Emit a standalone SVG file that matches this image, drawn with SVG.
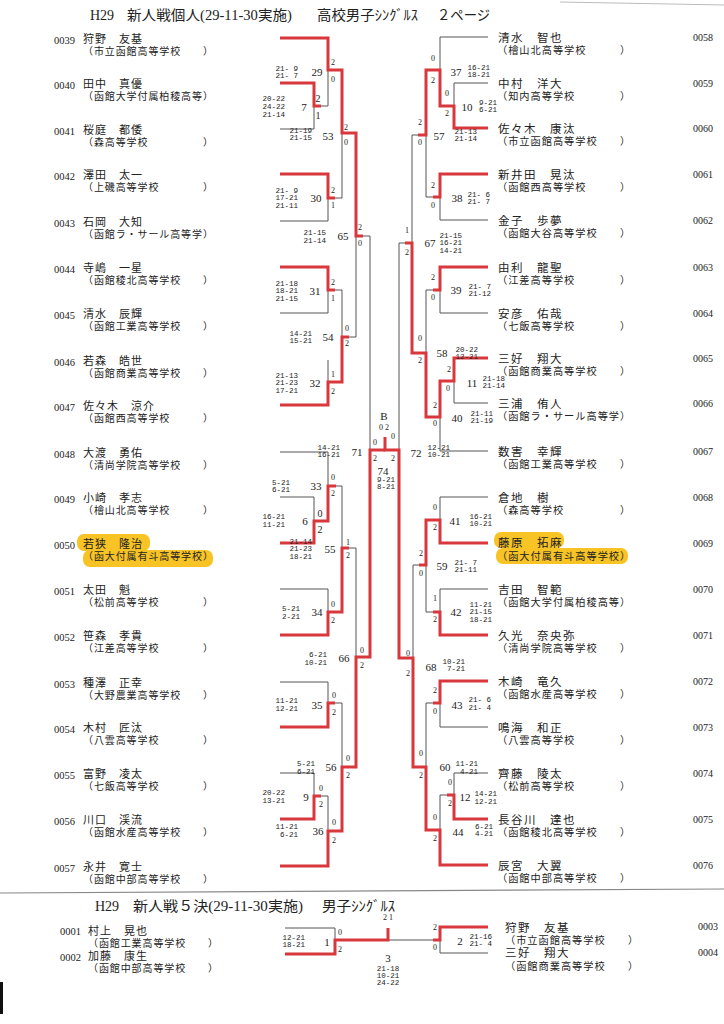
<svg xmlns="http://www.w3.org/2000/svg" width="724" height="1024" viewBox="0 0 724 1024">
<style>
text{fill:#222}
.cd{font:10.5px "Liberation Serif",serif}
.cdr{font:10px "Liberation Serif",serif}
.nm{font:11px "Liberation Serif","Noto Sans CJK JP",sans-serif;letter-spacing:1px}
.nmr{font:11.5px "Liberation Serif","Noto Sans CJK JP",sans-serif;letter-spacing:1.5px}
.sc{font:10px "Liberation Serif","Noto Sans CJK JP",sans-serif;letter-spacing:0.9px}
.scr{font:10.2px "Liberation Serif","Noto Sans CJK JP",sans-serif;letter-spacing:1px}
.ttl{font:14px "Liberation Serif","Noto Sans CJK JP",serif}
.t{fill:none;stroke:#555;stroke-width:1}
.r{fill:none;stroke:#d8373c;stroke-width:3}
.sr{font:7.5px "Liberation Mono",monospace;text-anchor:end}
.sm{font:7.5px "Liberation Mono",monospace;text-anchor:middle}
.mn{font:11px "Liberation Serif",serif;text-anchor:middle}
.lb{font:8px "Liberation Serif",serif;text-anchor:middle}
.lbb{font:10px "Liberation Serif",serif;text-anchor:middle}
.hl{fill:#f7c325}
</style>
<rect width="724" height="1024" fill="#fff"/>
<g id="decor">
<path d="M560 2 L724 5" stroke="#bbb" stroke-width="1" fill="none"/>
<path d="M0 893 L724 889" stroke="#888" stroke-width="1.2" fill="none"/>
<rect x="0" y="982" width="3" height="32" fill="#111"/>
</g>
<g id="title-top">
<text class="ttl" x="90" y="20">H29</text>
<text class="ttl" x="127" y="20" textLength="165" lengthAdjust="spacingAndGlyphs">新人戦個人(29-11-30実施)</text>
<text class="ttl" x="317" y="20" textLength="101" lengthAdjust="spacingAndGlyphs">高校男子ｼﾝｸﾞﾙｽ</text>
<text class="ttl" x="437" y="20" textLength="53" lengthAdjust="spacingAndGlyphs">２ページ</text>
</g>
<g id="title-bottom">
<text class="ttl" x="95" y="911">H29</text>
<text class="ttl" x="133" y="911" textLength="170" lengthAdjust="spacingAndGlyphs">新人戦５決(29-11-30実施)</text>
<text class="ttl" x="322" y="911" textLength="73" lengthAdjust="spacingAndGlyphs">男子ｼﾝｸﾞﾙｽ</text>
</g>
<g id="highlights">
<rect class="hl" x="77" y="534" width="73" height="17" rx="7"/>
<rect class="hl" x="83" y="550" width="130" height="17" rx="7"/>
<rect class="hl" x="494" y="532" width="70" height="16" rx="7"/>
<rect class="hl" x="496" y="548" width="132" height="16" rx="7"/>
</g>
<g id="connectors">
<path class="t" d="M280 129H314M280 221H328M280 313H328M280 452H328M280 497H314M280 589H328M280 682H328M280 773H314
M314 106V129M321 106H328M328 70V106M328 198V221M335 198H342M342 133V198M328 290V313M335 290H342M328 360V382M342 290V337M349 337H356M356 236V337M363 236H370M370 236V450
M314 497V521M328 452V486M336 486H342M328 589V612M342 486V548M349 548H356M356 548V657M328 682V703M335 703H342M314 773V796M321 796H328M328 796V831M342 703V767"/>
<path class="t" d="M488 37H440V70M488 83H454V106M488 220H440V197M433 197H426M426 135V197M418 135H412M488 313H440V290M433 290H426M426 290V353M488 403H454V381M488 451H440V417M412 135V243M405 243H399M399 243V450
M488 497H440V520M488 589H440V612M433 612H426M426 565V612M419 565H413M413 565V658M488 727H440V703M433 703H426M426 703V767M488 773H454V795M447 795H440M440 795V830"/>
<path class="t" d="M285 928H335V940M388 940H433M488 953H440V940"/>
<path class="r" d="M280 38H328V70H342V133H356V236H363M280 83H314V106H321M280 174H328V198H335M280 267H328V290H335M280 405H328V382H342V337H349M280 543H314V521H328V486H336M280 635H328V612H342V548H349M280 727H328V703H335M280 819H314V796H321M280 866H328V831H342V767H356V657H370V450H385"/>
<path class="r" d="M488 128H454V106H440V70H426V135H418M488 174H440V197H433M488 267H440V290H433M488 358H454V381H440V417H426V353H412V243H405M488 543H440V520H426V565H419M488 635H440V612H433M488 681H440V703H433M488 819H454V795H447M488 865H440V830H426V767H413V658H399V450H385V437"/>
<path class="r" d="M285 954H335V940H388V928M488 927H440V940H433"/>
</g>
<g id="players-left">
<g id="p0039"><text class="cd" x="54" y="44">0039</text><text x="83" y="43"><tspan class="nm">狩野　友基</tspan><tspan class="sc" x="83" y="54.5">（市立函館高等学校　　）</tspan></text></g>
<g id="p0040"><text class="cd" x="54" y="89">0040</text><text x="83" y="88"><tspan class="nm">田中　真優</tspan><tspan class="sc" x="83" y="99.5">（函館大学付属柏稜高等）</tspan></text></g>
<g id="p0041"><text class="cd" x="54" y="135">0041</text><text x="83" y="134"><tspan class="nm">桜庭　都倭</tspan><tspan class="sc" x="83" y="145.5">（森高等学校　　　　　）</tspan></text></g>
<g id="p0042"><text class="cd" x="54" y="180">0042</text><text x="83" y="179"><tspan class="nm">澤田　太一</tspan><tspan class="sc" x="83" y="190.5">（上磯高等学校　　　　）</tspan></text></g>
<g id="p0043"><text class="cd" x="54" y="227">0043</text><text x="83" y="226"><tspan class="nm">石岡　大知</tspan><tspan class="sc" x="83" y="237.5">（函館ラ・サール高等学）</tspan></text></g>
<g id="p0044"><text class="cd" x="54" y="273">0044</text><text x="83" y="272"><tspan class="nm">寺嶋　一星</tspan><tspan class="sc" x="83" y="283.5">（函館稜北高等学校　　）</tspan></text></g>
<g id="p0045"><text class="cd" x="54" y="319">0045</text><text x="83" y="318"><tspan class="nm">清水　辰輝</tspan><tspan class="sc" x="83" y="329.5">（函館工業高等学校　　）</tspan></text></g>
<g id="p0046"><text class="cd" x="54" y="366">0046</text><text x="83" y="365"><tspan class="nm">若森　皓世</tspan><tspan class="sc" x="83" y="376.5">（函館商業高等学校　　）</tspan></text></g>
<g id="p0047"><text class="cd" x="54" y="411">0047</text><text x="83" y="410"><tspan class="nm">佐々木　涼介</tspan><tspan class="sc" x="83" y="421.5">（函館西高等学校　　　）</tspan></text></g>
<g id="p0048"><text class="cd" x="54" y="458">0048</text><text x="83" y="457"><tspan class="nm">大渡　勇佑</tspan><tspan class="sc" x="83" y="468.5">（清尚学院高等学校　　）</tspan></text></g>
<g id="p0049"><text class="cd" x="54" y="503">0049</text><text x="83" y="502"><tspan class="nm">小崎　孝志</tspan><tspan class="sc" x="83" y="513.5">（檜山北高等学校　　　）</tspan></text></g>
<g id="p0050"><text class="cd" x="54" y="549">0050</text><text x="83" y="548"><tspan class="nm">若狭　隆治</tspan><tspan class="sc" x="83" y="559.5">（函大付属有斗高等学校）</tspan></text></g>
<g id="p0051"><text class="cd" x="54" y="595">0051</text><text x="83" y="594"><tspan class="nm">太田　魁</tspan><tspan class="sc" x="83" y="605.5">（松前高等学校　　　　）</tspan></text></g>
<g id="p0052"><text class="cd" x="54" y="641">0052</text><text x="83" y="640"><tspan class="nm">笹森　孝貴</tspan><tspan class="sc" x="83" y="651.5">（江差高等学校　　　　）</tspan></text></g>
<g id="p0053"><text class="cd" x="54" y="688">0053</text><text x="83" y="687"><tspan class="nm">種澤　正幸</tspan><tspan class="sc" x="83" y="698.5">（大野農業高等学校　　）</tspan></text></g>
<g id="p0054"><text class="cd" x="54" y="733">0054</text><text x="83" y="732"><tspan class="nm">木村　匠汰</tspan><tspan class="sc" x="83" y="743.5">（八雲高等学校　　　　）</tspan></text></g>
<g id="p0055"><text class="cd" x="54" y="779">0055</text><text x="83" y="778"><tspan class="nm">富野　凌太</tspan><tspan class="sc" x="83" y="789.5">（七飯高等学校　　　　）</tspan></text></g>
<g id="p0056"><text class="cd" x="54" y="825">0056</text><text x="83" y="824"><tspan class="nm">川口　渓流</tspan><tspan class="sc" x="83" y="835.5">（函館水産高等学校　　）</tspan></text></g>
<g id="p0057"><text class="cd" x="54" y="872">0057</text><text x="83" y="871"><tspan class="nm">永井　寛士</tspan><tspan class="sc" x="83" y="882.5">（函館中部高等学校　　）</tspan></text></g>
</g>
<g id="players-right">
<g id="p0058"><text x="498" y="41.5"><tspan class="nmr">清水　智也</tspan><tspan class="scr" x="497" y="53.5">（檜山北高等学校　　　）</tspan></text><text class="cdr" x="693" y="41">0058</text></g>
<g id="p0059"><text x="498" y="87.5"><tspan class="nmr">中村　洋大</tspan><tspan class="scr" x="497" y="99.5">（知内高等学校　　　　）</tspan></text><text class="cdr" x="693" y="87">0059</text></g>
<g id="p0060"><text x="498" y="132.5"><tspan class="nmr">佐々木　康汰</tspan><tspan class="scr" x="497" y="144.5">（市立函館高等学校　　）</tspan></text><text class="cdr" x="693" y="132">0060</text></g>
<g id="p0061"><text x="498" y="178.5"><tspan class="nmr">新井田　晃汰</tspan><tspan class="scr" x="497" y="190.5">（函館西高等学校　　　）</tspan></text><text class="cdr" x="693" y="178">0061</text></g>
<g id="p0062"><text x="498" y="224.5"><tspan class="nmr">金子　歩夢</tspan><tspan class="scr" x="497" y="236.5">（函館大谷高等学校　　）</tspan></text><text class="cdr" x="693" y="224">0062</text></g>
<g id="p0063"><text x="498" y="271.5"><tspan class="nmr">由利　龍聖</tspan><tspan class="scr" x="497" y="283.5">（江差高等学校　　　　）</tspan></text><text class="cdr" x="693" y="271">0063</text></g>
<g id="p0064"><text x="498" y="317.5"><tspan class="nmr">安彦　佑哉</tspan><tspan class="scr" x="497" y="329.5">（七飯高等学校　　　　）</tspan></text><text class="cdr" x="693" y="317">0064</text></g>
<g id="p0065"><text x="498" y="362.5"><tspan class="nmr">三好　翔大</tspan><tspan class="scr" x="497" y="374.5">（函館商業高等学校　　）</tspan></text><text class="cdr" x="693" y="362">0065</text></g>
<g id="p0066"><text x="498" y="407.5"><tspan class="nmr">三浦　侑人</tspan><tspan class="scr" x="497" y="419.5">（函館ラ・サール高等学）</tspan></text><text class="cdr" x="693" y="407">0066</text></g>
<g id="p0067"><text x="498" y="455.5"><tspan class="nmr">数害　幸輝</tspan><tspan class="scr" x="497" y="467.5">（函館工業高等学校　　）</tspan></text><text class="cdr" x="693" y="455">0067</text></g>
<g id="p0068"><text x="498" y="501.5"><tspan class="nmr">倉地　樹</tspan><tspan class="scr" x="497" y="513.5">（森高等学校　　　　　）</tspan></text><text class="cdr" x="693" y="501">0068</text></g>
<g id="p0069"><text x="498" y="547"><tspan class="nmr">藤原　拓麻</tspan><tspan class="scr" x="497" y="559.5">（函大付属有斗高等学校）</tspan></text><text class="cdr" x="693" y="547">0069</text></g>
<g id="p0070"><text x="498" y="593.5"><tspan class="nmr">吉田　智範</tspan><tspan class="scr" x="497" y="605.5">（函館大学付属柏稜高等）</tspan></text><text class="cdr" x="693" y="593">0070</text></g>
<g id="p0071"><text x="498" y="639.5"><tspan class="nmr">久光　奈央弥</tspan><tspan class="scr" x="497" y="651.5">（清尚学院高等学校　　）</tspan></text><text class="cdr" x="693" y="639">0071</text></g>
<g id="p0072"><text x="498" y="685.5"><tspan class="nmr">木崎　竜久</tspan><tspan class="scr" x="497" y="697.5">（函館水産高等学校　　）</tspan></text><text class="cdr" x="693" y="685">0072</text></g>
<g id="p0073"><text x="498" y="731.5"><tspan class="nmr">鳴海　和正</tspan><tspan class="scr" x="497" y="743.5">（八雲高等学校　　　　）</tspan></text><text class="cdr" x="693" y="731">0073</text></g>
<g id="p0074"><text x="498" y="777.5"><tspan class="nmr">齊藤　陵太</tspan><tspan class="scr" x="497" y="789.5">（松前高等学校　　　　）</tspan></text><text class="cdr" x="693" y="777">0074</text></g>
<g id="p0075"><text x="498" y="823.5"><tspan class="nmr">長谷川　達也</tspan><tspan class="scr" x="497" y="835.5">（函館稜北高等学校　　）</tspan></text><text class="cdr" x="693" y="823">0075</text></g>
<g id="p0076"><text x="498" y="869.5"><tspan class="nmr">辰宮　大翼</tspan><tspan class="scr" x="497" y="881.5">（函館中部高等学校　　）</tspan></text><text class="cdr" x="693" y="869">0076</text></g>
</g>
<g id="players-bottom">
<g id="p0001"><text class="cd" x="60" y="935">0001</text><text x="88" y="934.5"><tspan class="nm">村上　晃也</tspan><tspan class="sc" x="88" y="946.5">（函館工業高等学校　　）</tspan></text></g>
<g id="p0002"><text class="cd" x="60" y="961">0002</text><text x="88" y="960"><tspan class="nm">加藤　康生</tspan><tspan class="sc" x="88" y="972">（函館中部高等学校　　）</tspan></text></g>
<g id="p0003"><text x="505" y="931.5"><tspan class="nmr">狩野　友基</tspan><tspan class="scr" x="505" y="943.5">（市立函館高等学校　　）</tspan></text><text class="cdr" x="698" y="930">0003</text></g>
<g id="p0004"><text x="505" y="957"><tspan class="nmr">三好　翔大</tspan><tspan class="scr" x="505" y="970">（函館商業高等学校　　）</tspan></text><text class="cdr" x="698" y="956">0004</text></g>
</g>
<g id="matches-left">
<g id="m29"><text class="mn" x="317" y="76">29</text><text class="lb" x="333" y="65">2</text><text class="lb" x="333" y="82">0</text><text class="sr" x="298" y="70.5">21- 9<tspan x="298" dy="7">21- 7</tspan></text></g>
<g id="m7"><text class="mn" x="304" y="111">7</text><text class="lbb" x="318" y="101.5">2</text><text class="lbb" x="318" y="118.5">1</text><text class="sr" x="285" y="100.5">20-22<tspan x="285" dy="8">24-22</tspan><tspan x="285" dy="8">21-14</tspan></text></g>
<g id="m53"><text class="mn" x="328" y="140">53</text><text class="lb" x="346" y="130">2</text><text class="lb" x="346" y="145">0</text><text class="sr" x="312" y="132.5">21-19<tspan x="312" dy="7.5">21-15</tspan></text></g>
<g id="m30"><text class="mn" x="316" y="202">30</text><text class="lb" x="333" y="193">2</text><text class="lb" x="333" y="208">1</text><text class="sr" x="298" y="192.5">21- 9<tspan x="298" dy="7.5">17-21</tspan><tspan x="298" dy="7.5">21-11</tspan></text></g>
<g id="m65"><text class="mn" x="343" y="240">65</text><text class="lb" x="360" y="230">2</text><text class="lb" x="360" y="246">0</text><text class="sr" x="326" y="234.5">21-15<tspan x="326" dy="8">21-14</tspan></text></g>
<g id="m31"><text class="mn" x="315" y="295">31</text><text class="lb" x="333" y="285">2</text><text class="lb" x="333" y="301">1</text><text class="sr" x="298" y="285.5">21-18<tspan x="298" dy="7.5">18-21</tspan><tspan x="298" dy="7.5">21-15</tspan></text></g>
<g id="m54"><text class="mn" x="328" y="341">54</text><text class="lb" x="347" y="331">0</text><text class="lb" x="347" y="346">2</text><text class="sr" x="312" y="335.5">14-21<tspan x="312" dy="7">15-21</tspan></text></g>
<g id="m32"><text class="mn" x="315" y="387">32</text><text class="lb" x="333" y="377">1</text><text class="lb" x="333" y="394">2</text><text class="sr" x="298" y="377.5">21-13<tspan x="298" dy="7.5">21-23</tspan><tspan x="298" dy="7.5">17-21</tspan></text></g>
<g id="m71"><text class="mn" x="357" y="456">71</text><text class="lb" x="375" y="445">0</text><text class="lb" x="375" y="461">2</text><text class="sr" x="340" y="449.5">14-21<tspan x="340" dy="7">16-21</tspan></text></g>
<g id="m33"><text class="mn" x="316" y="490">33</text><text class="lb" x="333" y="480">0</text><text class="lb" x="333" y="496">2</text><text class="sr" x="290" y="484.5">5-21<tspan x="290" dy="7">6-21</tspan></text></g>
<g id="m6"><text class="mn" x="305" y="525">6</text><text class="lbb" x="320" y="516.5">0</text><text class="lbb" x="320" y="532.5">2</text><text class="sr" x="285" y="518.5">16-21<tspan x="285" dy="8">11-21</tspan></text></g>
<g id="m55"><text class="mn" x="330" y="553">55</text><text class="lb" x="348" y="545">1</text><text class="lb" x="348" y="558">2</text><text class="sr" x="312" y="543.5">21-14<tspan x="312" dy="7.5">21-23</tspan><tspan x="312" dy="7.5">18-21</tspan></text></g>
<g id="m34"><text class="mn" x="317" y="616">34</text><text class="lb" x="333" y="607">0</text><text class="lb" x="333" y="623">2</text><text class="sr" x="300" y="610.5">5-21<tspan x="300" dy="8">2-21</tspan></text></g>
<g id="m66"><text class="mn" x="344" y="662">66</text><text class="lb" x="362" y="653">0</text><text class="lb" x="362" y="668">2</text><text class="sr" x="327" y="656.5">6-21<tspan x="327" dy="8">10-21</tspan></text></g>
<g id="m35"><text class="mn" x="317" y="709">35</text><text class="lb" x="334" y="698">0</text><text class="lb" x="334" y="715">2</text><text class="sr" x="298" y="702.5">11-21<tspan x="298" dy="8">12-21</tspan></text></g>
<g id="m56"><text class="mn" x="331" y="771">56</text><text class="lb" x="348" y="761">0</text><text class="lb" x="348" y="778">2</text><text class="sr" x="315" y="765.5">5-21<tspan x="315" dy="8">6-21</tspan></text></g>
<g id="m9"><text class="mn" x="306" y="801">9</text><text class="lb" x="321" y="791">0</text><text class="lb" x="321" y="807">2</text><text class="sr" x="285" y="794.5">20-22<tspan x="285" dy="8">13-21</tspan></text></g>
<g id="m36"><text class="mn" x="318" y="835">36</text><text class="lb" x="334" y="825">0</text><text class="lb" x="334" y="843">2</text><text class="sr" x="298" y="828.5">11-21<tspan x="298" dy="8">6-21</tspan></text></g>
</g>
<g id="matches-right">
<g id="m37"><text class="mn" x="456" y="76">37</text><text class="lb" x="433" y="61">0</text><text class="lb" x="433" y="83">2</text><text class="sr" x="490" y="69.5">16-21<tspan x="490" dy="7.5">18-21</tspan></text></g>
<g id="m10"><text class="mn" x="467" y="111">10</text><text class="lb" x="447" y="96">0</text><text class="lb" x="447" y="116">2</text><text class="sr" x="497" y="104.5">9-21<tspan x="497" dy="7">6-21</tspan></text></g>
<g id="m57"><text class="mn" x="439" y="140">57</text><text class="lb" x="420" y="125">2</text><text class="lb" x="420" y="145">0</text><text class="sr" x="477" y="133.5">21-13<tspan x="477" dy="7">21-14</tspan></text></g>
<g id="m38"><text class="mn" x="457" y="202">38</text><text class="lb" x="433" y="188">2</text><text class="lb" x="433" y="208">0</text><text class="sr" x="490" y="196.5">21- 6<tspan x="490" dy="7">21- 7</tspan></text></g>
<g id="m67"><text class="mn" x="430" y="247">67</text><text class="lb" x="407" y="233">1</text><text class="lb" x="407" y="255">2</text><text class="sr" x="462" y="237.5">21-15<tspan x="462" dy="7.5">16-21</tspan><tspan x="462" dy="7.5">14-21</tspan></text></g>
<g id="m39"><text class="mn" x="456" y="294">39</text><text class="lb" x="433" y="280">2</text><text class="lb" x="433" y="300">0</text><text class="sr" x="491" y="288.5">21- 7<tspan x="491" dy="7">21-12</tspan></text></g>
<g id="m58"><text class="mn" x="442" y="357">58</text><text class="lb" x="420" y="341">0</text><text class="lb" x="420" y="363">2</text><text class="sr" x="478" y="351.5">20-22<tspan x="478" dy="7">12-21</tspan></text></g>
<g id="m11"><text class="mn" x="472" y="387">11</text><text class="lb" x="449" y="372">2</text><text class="lb" x="448" y="391">0</text><text class="sr" x="505" y="380.5">21-18<tspan x="505" dy="7">21-14</tspan></text></g>
<g id="m40"><text class="mn" x="457" y="422">40</text><text class="lb" x="435" y="408">2</text><text class="lb" x="435" y="426">0</text><text class="sr" x="493" y="415.5">21-11<tspan x="493" dy="7">21-19</tspan></text></g>
<g id="m72"><text class="mn" x="416" y="457">72</text><text class="lb" x="393" y="439">0</text><text class="lb" x="393" y="461">2</text><text class="sr" x="450" y="449.5">12-21<tspan x="450" dy="7">10-21</tspan></text></g>
<g id="m41"><text class="mn" x="455" y="525">41</text><text class="lb" x="435" y="510">0</text><text class="lb" x="435" y="530">2</text><text class="sr" x="492" y="518.5">16-21<tspan x="492" dy="7">10-21</tspan></text></g>
<g id="m59"><text class="mn" x="442" y="570">59</text><text class="lb" x="421" y="556">2</text><text class="lb" x="421" y="576">0</text><text class="sr" x="477" y="564.5">21- 7<tspan x="477" dy="7">21-11</tspan></text></g>
<g id="m42"><text class="mn" x="456" y="616">42</text><text class="lb" x="435" y="601">1</text><text class="lb" x="435" y="622">2</text><text class="sr" x="492" y="606.5">11-21<tspan x="492" dy="7.5">21-15</tspan><tspan x="492" dy="7.5">18-21</tspan></text></g>
<g id="m68"><text class="mn" x="431" y="671">68</text><text class="lb" x="408" y="656">0</text><text class="lb" x="408" y="676">2</text><text class="sr" x="465" y="663.5">10-21<tspan x="465" dy="7">7-21</tspan></text></g>
<g id="m43"><text class="mn" x="457" y="709">43</text><text class="lb" x="435" y="693">2</text><text class="lb" x="435" y="714">0</text><text class="sr" x="491" y="701.5">21- 6<tspan x="491" dy="8">21- 4</tspan></text></g>
<g id="m60"><text class="mn" x="445" y="771">60</text><text class="lb" x="421" y="756">0</text><text class="lb" x="421" y="778">2</text><text class="sr" x="478" y="765.5">11-21<tspan x="478" dy="8">4-21</tspan></text></g>
<g id="m12"><text class="mn" x="465" y="801">12</text><text class="lb" x="450" y="785">0</text><text class="lb" x="450" y="806">2</text><text class="sr" x="497" y="795.5">14-21<tspan x="497" dy="8">12-21</tspan></text></g>
<g id="m44"><text class="mn" x="458" y="836">44</text><text class="lb" x="435" y="820">0</text><text class="lb" x="435" y="841">2</text><text class="sr" x="493" y="828.5">6-21<tspan x="493" dy="7">4-21</tspan></text></g>
</g>
<g id="m74">
<text class="mn" x="384" y="420">B</text>
<text class="lb" x="384" y="430">0 2</text>
<text class="mn" x="383" y="475">74</text>
<text class="sm" x="386" y="481.5">9-21<tspan x="386" dy="7">8-21</tspan></text>
</g>
<g id="matches-bottom">
<g id="m1"><text class="mn" x="327" y="946">1</text><text class="lb" x="340" y="935">0</text><text class="lb" x="340" y="952">2</text><text class="sr" x="305" y="939.5">12-21<tspan x="305" dy="7">18-21</tspan></text></g>
<g id="m3"><text class="lb" x="388" y="920">2 1</text><text class="mn" x="388" y="962">3</text><text class="sm" x="388" y="970.5">21-18<tspan x="388" dy="7">10-21</tspan><tspan x="388" dy="7">24-22</tspan></text></g>
<g id="m2"><text class="mn" x="460" y="945">2</text><text class="lb" x="435" y="930">2</text><text class="lb" x="435" y="950">0</text><text class="sr" x="492" y="938.5">21-16<tspan x="492" dy="7">21- 4</tspan></text></g>
</g>
</svg>
